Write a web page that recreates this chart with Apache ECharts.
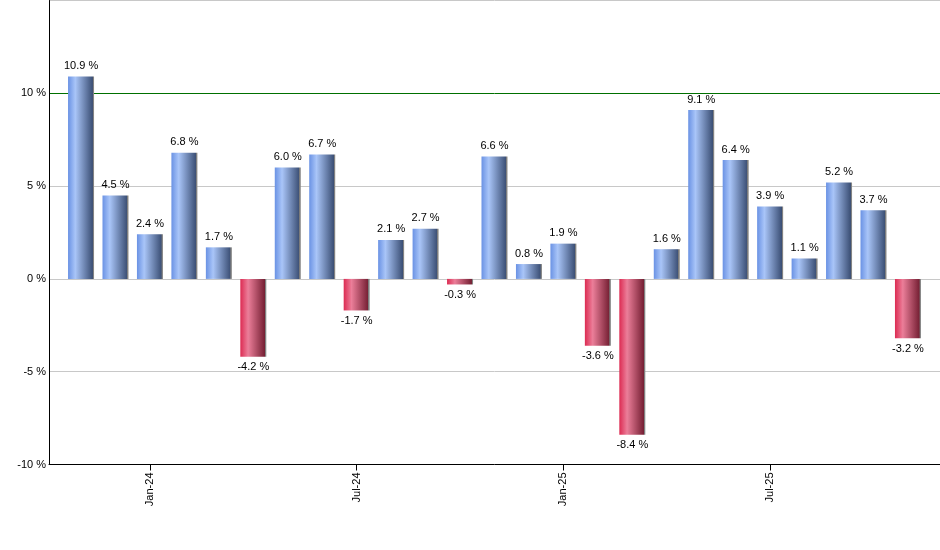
<!DOCTYPE html>
<html>
<head>
<meta charset="utf-8">
<script src="https://cdn.jsdelivr.net/npm/echarts@6/dist/echarts.min.js"></script>
<style>
html,body{margin:0;padding:0;background:#fff;}
#chart{width:940px;height:550px;}
</style>
</head>
<body>
<div id="chart"></div>
<script>
var months = ['Nov-23','Dec-23','Jan-24','Feb-24','Mar-24','Apr-24','May-24','Jun-24','Jul-24','Aug-24','Sep-24','Oct-24','Nov-24','Dec-24','Jan-25','Feb-25','Mar-25','Apr-25','May-25','Jun-25','Jul-25','Aug-25','Sep-25','Oct-25','Nov-25'];
var returns = [10.9, 4.5, 2.4, 6.8, 1.7, -4.2, 6.0, 6.7, -1.7, 2.1, 2.7, -0.3, 6.6, 0.8, 1.9, -3.6, -8.4, 1.6, 9.1, 6.4, 3.9, 1.1, 5.2, 3.7, -3.2];
var labelMonths = ['Jan-24','Jul-24','Jan-25','Jul-25'];

var blueGrad = new echarts.graphic.LinearGradient(0,0,1,0,[
  {offset:0, color:'#6a92e4'},
  {offset:0.28, color:'#a9c5f8'},
  {offset:0.94, color:'#3c5076'},
  {offset:0.95, color:'#7a7a7a'},
  {offset:1, color:'#8a8a8a'}
]);
var redGrad = new echarts.graphic.LinearGradient(0,0,1,0,[
  {offset:0, color:'#dc2b52'},
  {offset:0.3, color:'#eb7e99'},
  {offset:0.94, color:'#762034'},
  {offset:0.95, color:'#7a7a7a'},
  {offset:1, color:'#8a8a8a'}
]);

var data = returns.map(function(v, i){
  return {
    value: [i, v],
    itemStyle: {color: v >= 0 ? blueGrad : redGrad},
    label: {position: v >= 0 ? 'top' : 'bottom'}
  };
});
var tickIdx = labelMonths.map(function(m){ return months.indexOf(m); });

var chart = echarts.init(document.getElementById('chart'), null, {renderer:'canvas'});
chart.setOption({
  animation: false,
  grid: {left: 49, right: 0, top: 0.5, bottom: 85.5, containLabel: false},
  xAxis: {
    type: 'value',
    min: -0.93, max: 24.93,
    axisLine: {onZero: false, lineStyle: {color: '#000', width: 1}},
    splitLine: {show: false},
    axisTick: {show: true, customValues: tickIdx, length: 6, lineStyle: {color: '#000'}},
    axisLabel: {
      customValues: tickIdx, rotate: 90, margin: 8,
      fontFamily: 'Liberation Sans, Arial, sans-serif', fontSize: 11, color: '#000',
      formatter: function(v){ return months[Math.round(v)]; }
    }
  },
  yAxis: {
    type: 'value',
    min: -10, max: 15, interval: 5,
    axisLine: {show: true, onZero: false, lineStyle: {color: '#000', width: 1}},
    axisTick: {show: false},
    splitLine: {show: true, lineStyle: {color: ['#c8c8c8','#c8c8c8','#c8c8c8','#c8c8c8','#007000','#c8c8c8'], width: 1}},
    axisLabel: {
      margin: 3, fontFamily: 'Liberation Sans, Arial, sans-serif', fontSize: 11, color: '#000',
      formatter: function(v){ return v >= 15 ? '' : v + ' %'; }
    }
  },
  series: [{
    type: 'bar',
    barWidth: 26,
    data: data,
    label: {
      show: true, distance: 5,
      fontFamily: 'Liberation Sans, Arial, sans-serif', fontSize: 11, color: '#000',
      formatter: function(p){ return p.value[1].toFixed(1) + ' %'; }
    }
  }]
});
</script>
</body>
</html>
